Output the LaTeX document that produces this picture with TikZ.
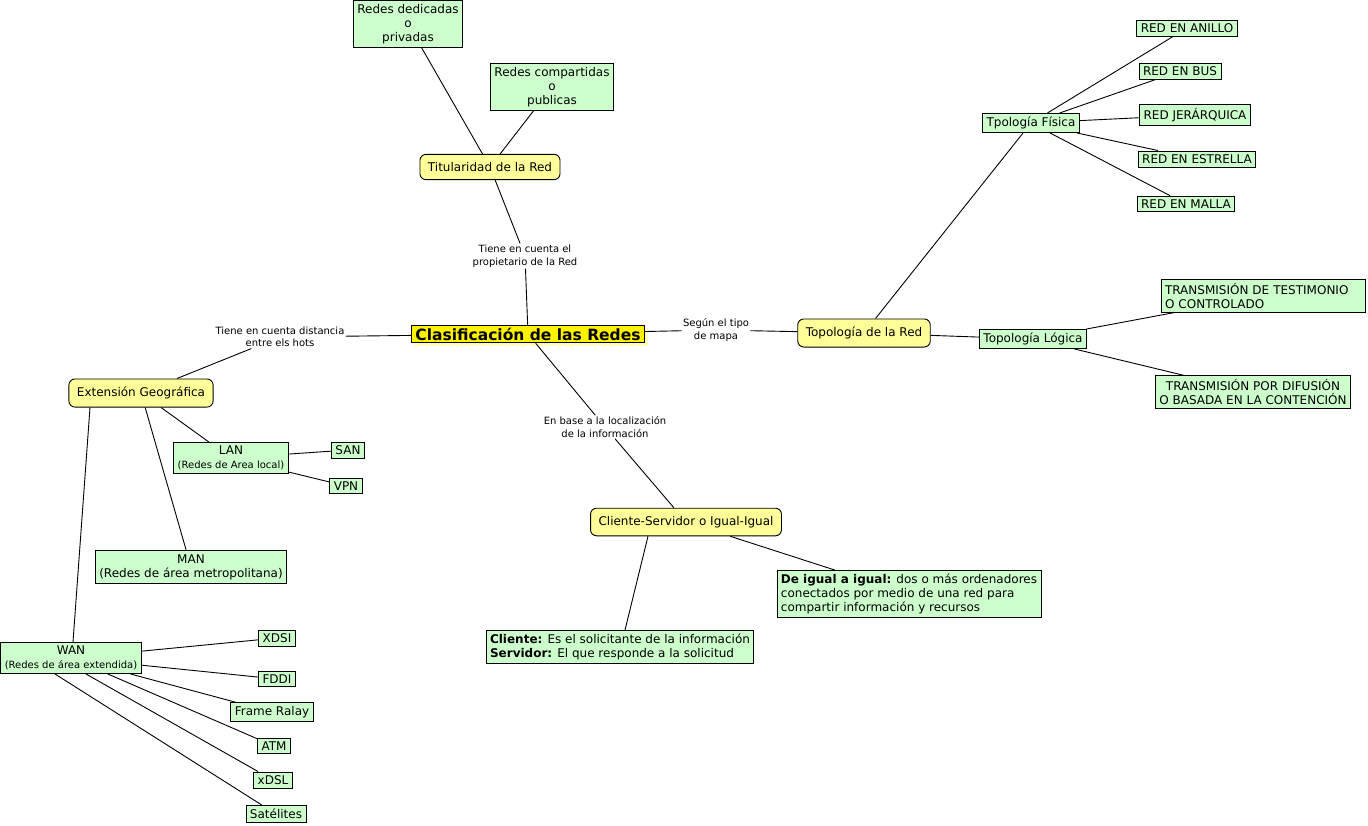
\documentclass[tikz,border=0pt]{standalone}
\usepackage{fontspec}
\setmainfont{DejaVu Sans}
\usetikzlibrary{shadows}
\definecolor{cmgreen}{RGB}{204,255,204}
\definecolor{cmyellow}{RGB}{255,255,153}
\definecolor{cmshadow}{RGB}{255,255,190}

\begin{document}
\begin{tikzpicture}[x=1pt,y=-1pt,line width=0.9pt,
  concept/.style={draw=black,fill=cmyellow,rounded corners=6pt,inner xsep=8pt,inner ysep=8pt,font=\fontsize{12}{14}\selectfont},
  leaf/.style={draw=black,fill=cmgreen,inner xsep=4pt,inner ysep=3.5pt,font=\fontsize{12}{14}\selectfont,align=center},
  phrase/.style={inner sep=1pt,font=\fontsize{10}{12.5}\selectfont,align=center},
  mainbox/.style={draw=black,fill=yellow,inner xsep=4pt,inner ysep=2.5pt,font=\bfseries\fontsize{15.5}{18}\selectfont,
    drop shadow={shadow xshift=3pt,shadow yshift=-3pt,fill=cmshadow,opacity=1}}]
  \useasboundingbox (0,0) rectangle (1368,825);

  % centre
  \node[mainbox] (root) at (528,334) {Clasificación de las Redes};

  % titularidad
  \node[phrase] (ptit) at (525,256) {Tiene en cuenta el\\propietario de la Red};
  \node[concept] (tit) at (490,167) {Titularidad de la Red};
  \node[leaf] (ded) at (408,24) {Redes dedicadas\\o\\privadas};
  \node[leaf] (comp) at (552,87) {Redes compartidas\\o\\publicas};

  \draw (root) -- (ptit);
  \draw (ptit) -- (tit);
  \draw (tit) -- (ded);
  \draw (tit) -- (comp);

  % extension geografica
  \node[phrase] (pext) at (280,337) {Tiene en cuenta distancia\\entre els hots};
  \node[concept] (ext) at (141,393) {Extensión Geográfica};
  \node[leaf] (lan) at (231,458) {LAN\\{\fontsize{10}{12}\selectfont(Redes de Area local)}};
  \node[leaf] (san) at (348,450) {SAN};
  \node[leaf] (vpn) at (346,486) {VPN};
  \node[leaf] (man) at (191,567) {MAN\\(Redes de área metropolitana)};
  \node[leaf] (wan) at (71,658) {WAN\\{\fontsize{10}{12}\selectfont(Redes de área extendida)}};
  \node[leaf] (xdsi) at (277,638) {XDSI};
  \node[leaf] (fddi) at (277,679) {FDDI};
  \node[leaf] (frame) at (272,712) {Frame Ralay};
  \node[leaf] (atm) at (274,746) {ATM};
  \node[leaf] (xdsl) at (273,780) {xDSL};
  \node[leaf] (sat) at (276,814) {Satélites};

  \draw (root) -- (pext);
  \draw (pext) -- (ext);
  \draw (ext) -- (lan);
  \draw (lan) -- (san);
  \draw (lan) -- (vpn);
  \draw (ext) -- (man);
  \draw ([xshift=-51pt]ext.south) -- ([xshift=2pt]wan.north);
  \draw (wan) -- (xdsi);
  \draw (wan) -- (fddi);
  \draw (wan) -- (frame);
  \draw (wan) -- (atm);
  \draw ([xshift=15pt]wan.south) -- (xdsl);
  \draw ([xshift=-16pt]wan.south) -- (sat);

  % topologia
  \node[phrase] (ptop) at (716,330) {Según el tipo\\de mapa};
  \node[concept] (top) at (864,333) {Topología de la Red};
  \node[leaf] (fis) at (1031,123) {Tpología Física};
  \node[leaf] (anillo) at (1187,28) {RED EN ANILLO};
  \node[leaf] (bus) at (1180,71) {RED EN BUS};
  \node[leaf] (jer) at (1195,115) {RED JERÁRQUICA};
  \node[leaf] (estr) at (1197,159) {RED EN ESTRELLA};
  \node[leaf] (malla) at (1186,204) {RED EN MALLA};
  \node[leaf] (log) at (1033,339) {Topología Lógica};
  \node[leaf,text width=196pt,align=left] (test) at (1263,296) {TRANSMISIÓN DE TESTIMONIO\\O CONTROLADO};
  \node[leaf] (dif) at (1253,392) {TRANSMISIÓN POR DIFUSIÓN\\O BASADA EN LA CONTENCIÓN};

  \draw (root) -- (ptop);
  \draw (ptop) -- (top);
  \draw (top) -- (fis);
  \draw (fis) -- (anillo);
  \draw (fis) -- (bus);
  \draw (fis) -- (jer);
  \draw (fis) -- (estr);
  \draw (fis) -- (malla);
  \draw (top) -- (log);
  \draw (log) -- (test);
  \draw (log) -- (dif);

  % cliente-servidor
  \node[phrase] (pcs) at (605,427) {En base a la localización\\de la información};
  \node[concept] (cs) at (686,522) {Cliente-Servidor o Igual-Igual};
  \node[leaf,align=left] (igual) at (909,594) {\textbf{De igual a igual:} dos o más ordenadores\\conectados por medio de una red para\\compartir información y recursos};
  \node[leaf,align=left] (cli) at (620,647) {\textbf{Cliente:} Es el solicitante de la información\\\textbf{Servidor:} El que responde a la solicitud};

  \draw (root) -- (pcs);
  \draw (pcs) -- (cs);
  \draw (cs) -- (igual);
  \draw ([xshift=-38pt]cs.south) -- ([xshift=5pt]cli.north);
\end{tikzpicture}
\end{document}
